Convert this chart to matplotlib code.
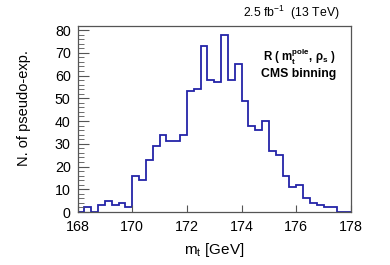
"""Pseudo-experiment distribution of the fitted top-quark mass (CMS binning)."""

import matplotlib
matplotlib.use("Agg")

import matplotlib.pyplot as plt  # noqa: E402
import numpy as np  # noqa: E402
from matplotlib.ticker import MultipleLocator  # noqa: E402

plt.rcParams["font.family"] = ["Liberation Sans", "DejaVu Sans"]
plt.rcParams["mathtext.default"] = "regular"

# ---------------------------------------------------------------------------
# Data
# ---------------------------------------------------------------------------
mt_min = 168.0
mt_max = 178.0
counts = [
    0, 2, 0, 3, 5, 3, 4, 2,
    16, 14, 23, 29, 34, 31, 31, 34,
    53, 54, 73, 58, 57, 78, 58, 65,
    49, 38, 36, 40, 27, 25, 16, 11,
    12, 6, 4, 3, 2, 2, 0, 0,
]
x_ticks = [168, 170, 172, 174, 176, 178]
y_ticks = [0, 10, 20, 30, 40, 50, 60, 70, 80]
y_max = 81.9

edges = np.linspace(mt_min, mt_max, len(counts) + 1)

# ---------------------------------------------------------------------------
# Draw
# ---------------------------------------------------------------------------
fig = plt.figure(figsize=(3.9, 2.65), dpi=100)
ax = fig.add_axes([0.199, 0.2, 0.701, 0.703])

ax.stairs(counts, edges, color="#2424a8", linewidth=1.3, baseline=0)

ax.set_xlim(mt_min, mt_max)
ax.set_ylim(0, y_max)
ax.set_xticks(x_ticks)
ax.set_yticks(y_ticks)
ax.yaxis.set_minor_locator(MultipleLocator(2))

ax.tick_params(axis="both", which="both", direction="in", color="#555555",
               labelsize=10.3, top=False, right=False)
ax.tick_params(axis="x", which="major", length=5, pad=6)
ax.tick_params(axis="y", which="major", length=8, pad=5)
ax.tick_params(axis="y", which="minor", length=4.5)
for spine in ax.spines.values():
    spine.set_color("#555555")
    spine.set_linewidth(0.9)

ax.set_xlabel("m$_{t}$ [GeV]", fontsize=11, labelpad=5)
ax.set_ylabel("N. of pseudo-exp.", fontsize=10.5)
ax.yaxis.set_label_coords(-0.17, 0.56)

fig.text(0.872, 0.95, "2.5 fb$^{-1}$  (13 TeV)", fontsize=8.8,
         ha="right", va="center")
ax.text(0.81, 0.83, "R ( m$_{t}^{pole}$, ρ$_{s}$ )", transform=ax.transAxes,
        fontsize=8.3, fontweight="bold", ha="center", va="center")
ax.text(0.81, 0.74, "CMS binning", transform=ax.transAxes,
        fontsize=8.8, fontweight="bold", ha="center", va="center")

fig.savefig("out.png", dpi=100)
plt.close(fig)
